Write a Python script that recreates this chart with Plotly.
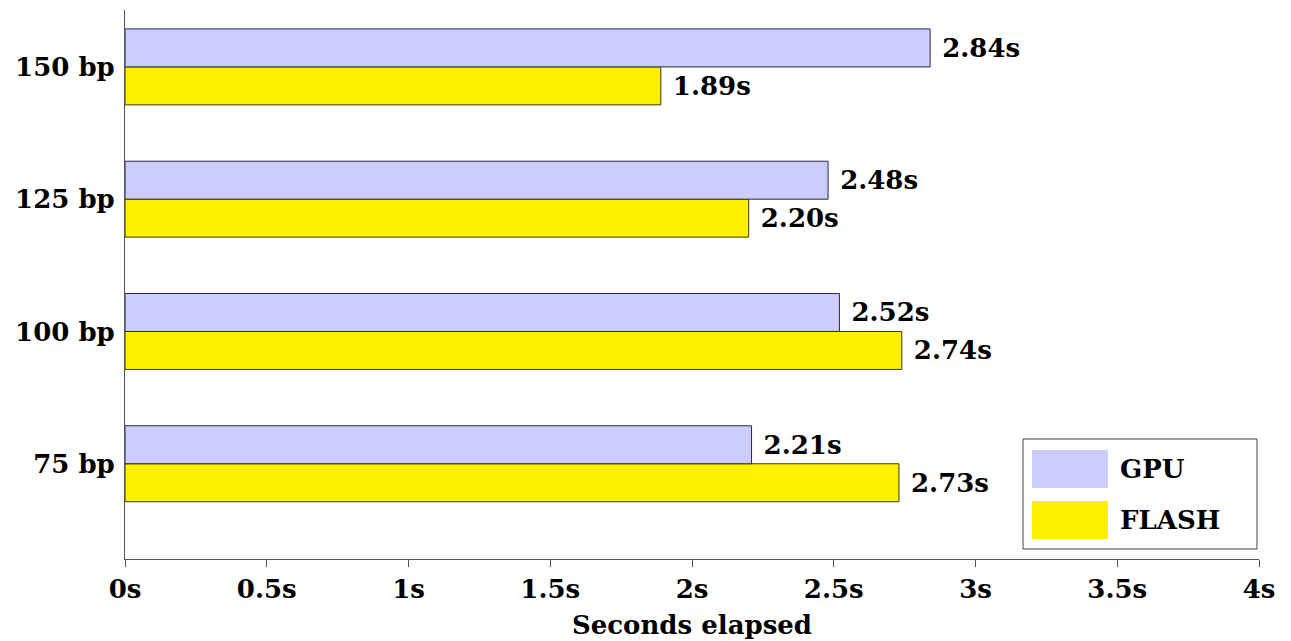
import plotly.graph_objects as go

categories = ["75 bp", "100 bp", "125 bp", "150 bp"]
gpu = [2.21, 2.52, 2.48, 2.84]
flash = [2.73, 2.74, 2.20, 1.89]
x_ticks = [0, 0.5, 1, 1.5, 2, 2.5, 3, 3.5, 4]
x_tick_labels = ["0s", "0.5s", "1s", "1.5s", "2s", "2.5s", "3s", "3.5s", "4s"]

FONT = "DejaVu Serif"
FS = 26
# page offset (browser body margin)
OFF = 8
W, H = 1291 - OFF, 641 - OFF
L, R, T, B = 125 - OFF, 32, 10 - OFF, 82
PW, PH = W - L - R, H - T - B

def px_x(p):
    return (p - OFF - L) / PW

def px_y(p):
    return (H - B - (p - OFF)) / PH

bold = dict(family=FONT, size=FS, color="black", weight="bold")

series = [
    ("FLASH", flash, "#fff000", "#3a3800"),
    ("GPU", gpu, "#ccccff", "#2a2a40"),
]

fig = go.Figure()
for name, vals, fill, edge in series:
    fig.add_trace(go.Bar(
        y=categories, x=vals, name=name, orientation="h",
        marker=dict(color=fill, line=dict(color=edge, width=1)),
        text=[" %.2fs" % v for v in vals], textposition="outside",
        textfont=bold, cliponaxis=False, showlegend=False,
    ))

fig.update_layout(
    width=W, height=H, barmode="group", bargap=0.426, bargroupgap=0,
    margin=dict(l=L, r=R, t=T, b=B),
    plot_bgcolor="white", paper_bgcolor="white",
    font=bold,
)
fig.update_xaxes(
    range=[0, 4], tickvals=x_ticks, ticktext=x_tick_labels,
    showline=True, linecolor="#555", linewidth=1, ticks="outside", ticklen=7,
    tickcolor="#555", showgrid=False, zeroline=False,
    title=dict(text="Seconds elapsed", standoff=12, font=bold),
    tickfont=bold,
)
fig.update_yaxes(
    range=[-0.72, 3.43], showline=True, linecolor="#555", linewidth=1,
    ticks="", showgrid=False, zeroline=False, ticklabelstandoff=4,
    tickfont=bold,
)

# Custom legend box
fig.add_shape(type="rect", xref="paper", yref="paper",
              x0=px_x(1023), x1=px_x(1257), y0=px_y(549), y1=px_y(439),
              line=dict(color="#444", width=1), fillcolor="white", layer="above")
legend_items = [("GPU", "#ccccff", 450), ("FLASH", "#fff000", 501)]
for name, fill, top in legend_items:
    fig.add_shape(type="rect", xref="paper", yref="paper",
                  x0=px_x(1032), x1=px_x(1108), y0=px_y(top + 38), y1=px_y(top),
                  line=dict(width=0), fillcolor=fill, layer="above")
    fig.add_annotation(xref="paper", yref="paper", x=px_x(1118), y=px_y(top + 19),
                       text=name, showarrow=False, xanchor="left",
                       yanchor="middle", font=bold)

fig.write_html("out.html")
